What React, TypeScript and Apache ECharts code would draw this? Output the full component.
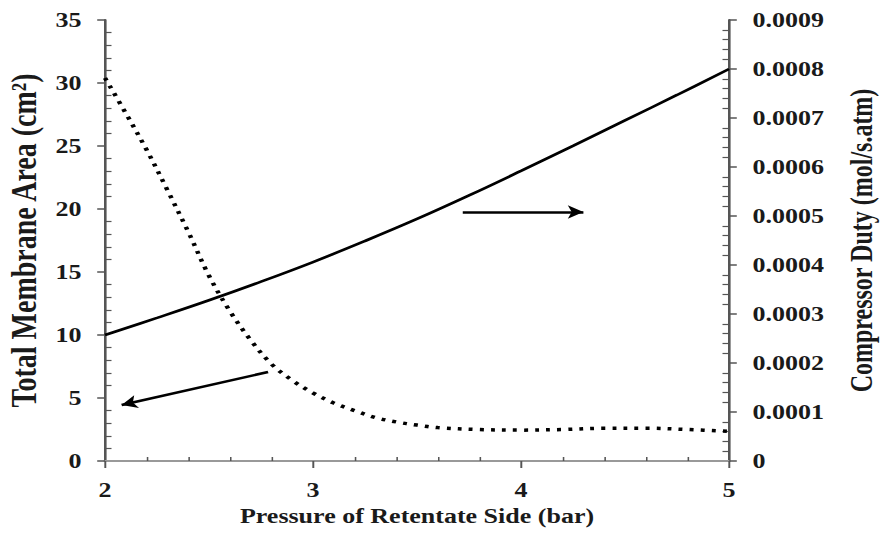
import React, { useEffect, useRef } from "react";
import * as echarts from "echarts";

// Dotted series: total membrane area (left axis, cm²)
const areaPressure = [2.0, 2.1, 2.2, 2.3, 2.4, 2.5, 2.6, 2.7, 2.8, 2.9, 3.0, 3.1, 3.2, 3.3, 3.4, 3.5, 3.6, 3.8, 4.0, 4.2, 4.4, 4.6, 4.8, 5.0];
const areaValues = [30.4, 27.6, 24.7, 21.5, 18.2, 14.7, 11.9, 9.6, 7.7, 6.4, 5.4, 4.6, 4.0, 3.45, 3.1, 2.85, 2.65, 2.5, 2.45, 2.5, 2.6, 2.6, 2.5, 2.35];

// Solid series: compressor duty (right axis, mol/s.atm)
const dutyPressure = [2.0, 2.25, 2.5, 2.75, 3.0, 3.25, 3.5, 3.75, 4.0, 4.25, 4.5, 4.75, 5.0];
const dutyValues = [0.000257, 0.000292, 0.000328, 0.000366, 0.000406, 0.000449, 0.000494, 0.000542, 0.000592, 0.000643, 0.000695, 0.000747, 0.0008];

// Annotation arrows (start -> end), in left-axis units
const arrowRight = [[3.72, 19.76], [4.3, 19.76]];
const arrowLeft = [[2.784, 7.06], [2.08, 4.45]];

const xTitle = "Pressure of Retentate Side (bar)";
const yLeftTitle = "Total Membrane Area (cm²)";
const yRightTitle = "Compressor Duty (mol/s.atm)";

const SCALE = 1.3;
const W = Math.round(880 / SCALE);
const H = 539;
const FONT = "'Liberation Serif', 'Times New Roman', serif";
const AXIS = "#555";
const TXT = "#1a1a1a";

export default function App() {
  const ref = useRef<HTMLDivElement>(null);
  useEffect(() => {
    if (!ref.current) return;
    const chart = echarts.init(ref.current, undefined, { renderer: "svg", width: W, height: H });
    const labelStyle = { fontFamily: FONT, fontWeight: "bold" as const, fontSize: 20, color: TXT };
    const gridLeft = 105 / SCALE;
    const gridWidth = (729 - 105) / SCALE;
    chart.setOption({
      animation: false,
      backgroundColor: "#fff",
      grid: {
        left: gridLeft,
        width: gridWidth,
        top: 20,
        height: 441,
        containLabel: false,
        outerBoundsMode: "none",
      },
      xAxis: [
        {
          type: "value",
          min: 2,
          max: 5,
          interval: 1,
          position: "bottom",
          axisLine: { show: true, lineStyle: { color: AXIS, width: 2 } },
          axisTick: { show: true, inside: false, length: 7, lineStyle: { color: AXIS, width: 1.5 } },
          minorTick: { show: true, splitNumber: 5, length: -4, lineStyle: { color: AXIS, width: 1.2 } },
          splitLine: { show: false },
          axisLabel: { ...labelStyle, margin: 19 },
          name: xTitle,
          nameLocation: "middle",
          nameGap: 45,
          nameTextStyle: { ...labelStyle },
        },
        {
          type: "value",
          min: 2,
          max: 5,
          position: "top",
          axisLine: { show: true, lineStyle: { color: "#999", width: 2 } },
          axisTick: { show: false },
          axisLabel: { show: false },
          splitLine: { show: false },
        },
      ],
      yAxis: [
        {
          type: "value",
          min: 0,
          max: 35,
          interval: 5,
          position: "left",
          axisLine: { show: true, lineStyle: { color: AXIS, width: 2 } },
          axisTick: { show: true, inside: false, length: 6, lineStyle: { color: AXIS, width: 1.5 } },
          minorTick: { show: true, splitNumber: 5, length: -5, lineStyle: { color: AXIS, width: 1.2 } },
          splitLine: { show: false },
          axisLabel: { ...labelStyle, margin: 18 },
          name: yLeftTitle,
          nameLocation: "middle",
          nameRotate: 90,
          nameGap: 41,
          nameTextStyle: { ...labelStyle, fontSize: 28 },
        },
        {
          type: "value",
          min: 0,
          max: 0.0009,
          interval: 0.0001,
          position: "right",
          axisLine: { show: true, lineStyle: { color: AXIS, width: 2 } },
          axisTick: { show: true, inside: false, length: 6, lineStyle: { color: AXIS, width: 1.5 } },
          minorTick: { show: true, splitNumber: 5, length: -5, lineStyle: { color: AXIS, width: 1.2 } },
          splitLine: { show: false },
          axisLabel: {
            ...labelStyle,
            margin: 18,
            formatter: (v: number) => (v === 0 ? "0" : v.toFixed(4)),
          },
          name: yRightTitle,
          nameLocation: "middle",
          nameRotate: 90,
          nameGap: 90,
          nameTextStyle: { ...labelStyle, fontSize: 24 },
        },
      ],
      series: [
        {
          type: "line",
          name: "area",
          xAxisIndex: 0,
          yAxisIndex: 0,
          data: areaPressure.map((p, i) => [p, areaValues[i]]),
          showSymbol: false,
          smooth: 0.35,
          lineStyle: { color: "#000", width: 3.5, type: [3, 5.5], cap: "butt" },
          markLine: {
            silent: true,
            symbol: ["none", "arrow"],
            symbolSize: [10, 12],
            label: { show: false },
            lineStyle: { color: "#000", width: 2.6, type: "solid" },
            data: [
              [{ coord: arrowRight[0] }, { coord: arrowRight[1] }],
              [{ coord: arrowLeft[0] }, { coord: arrowLeft[1] }],
            ],
          },
        },
        {
          type: "line",
          name: "duty",
          xAxisIndex: 0,
          yAxisIndex: 1,
          data: dutyPressure.map((p, i) => [p, dutyValues[i]]),
          showSymbol: false,
          smooth: 0.4,
          lineStyle: { color: "#000", width: 2.6, type: "solid" },
        },
      ],
    });
    return () => chart.dispose();
  }, []);
  return (
    <div
      style={{
        position: "fixed",
        left: 0,
        top: 0,
        width: 880,
        height: H,
        overflow: "hidden",
        background: "#fff",
      }}
    >
      <div
        ref={ref}
        style={{
          width: W,
          height: H,
          transform: `scaleX(${SCALE})`,
          transformOrigin: "0 0",
        }}
      />
    </div>
  );
}
